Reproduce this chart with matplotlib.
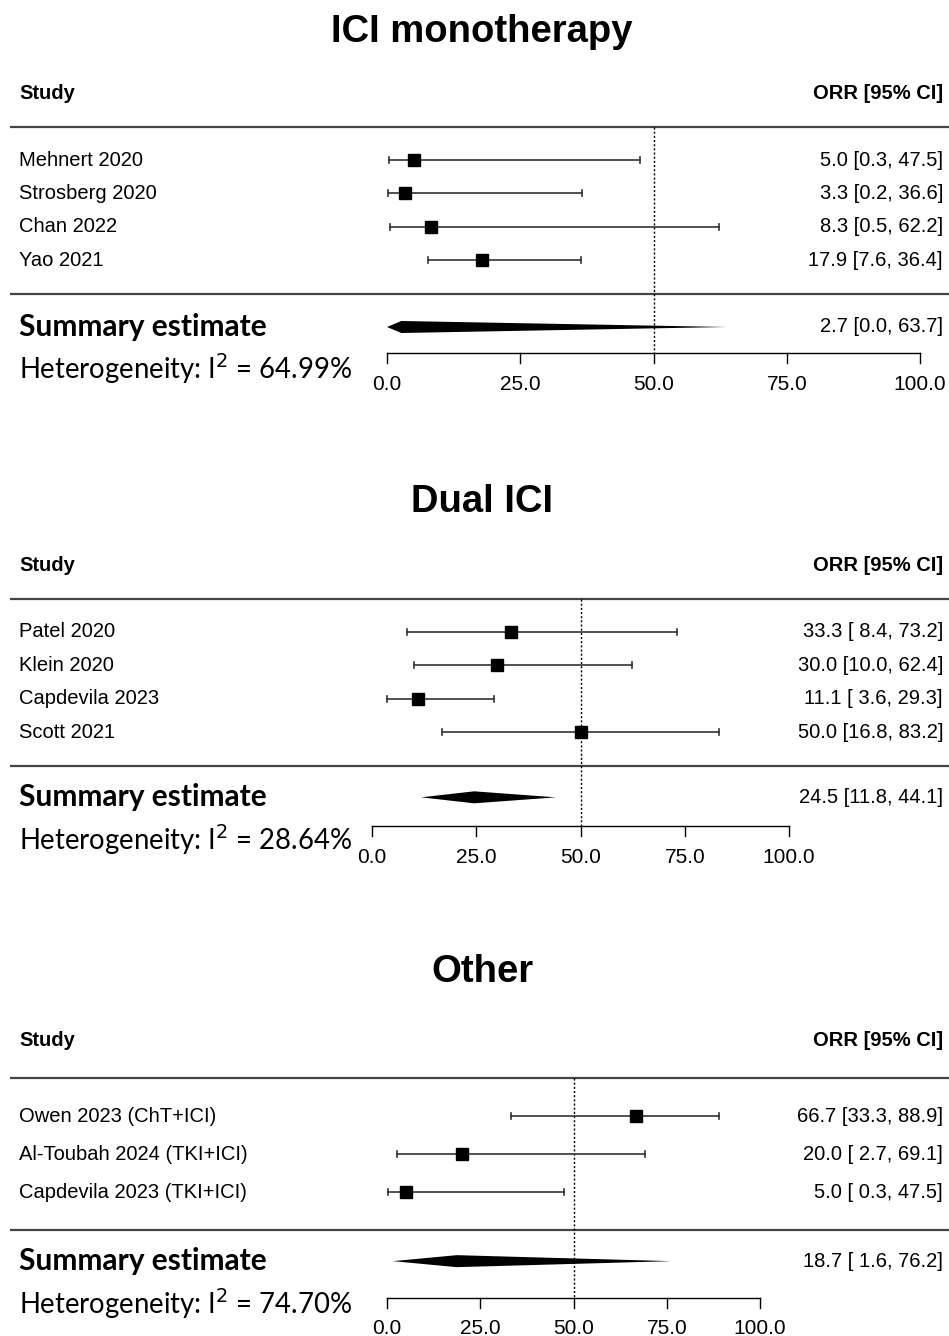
import numpy as np
import matplotlib
matplotlib.use("Agg")
import matplotlib.pyplot as plt
from matplotlib import font_manager
from matplotlib.transforms import blended_transform_factory

W, H = 949, 1336

# ------- data -------
mono_studies = ["Mehnert 2020", "Strosberg 2020", "Chan 2022", "Yao 2021"]
mono_est = [5.0, 3.3, 8.3, 17.9]
mono_lo = [0.3, 0.2, 0.5, 7.6]
mono_hi = [47.5, 36.6, 62.2, 36.4]
mono_sum = (2.7, 0.0, 63.7)
mono_i2 = "64.99%"

dual_studies = ["Patel 2020", "Klein 2020", "Capdevila 2023", "Scott 2021"]
dual_est = [33.3, 30.0, 11.1, 50.0]
dual_lo = [8.4, 10.0, 3.6, 16.8]
dual_hi = [73.2, 62.4, 29.3, 83.2]
dual_sum = (24.5, 11.8, 44.1)
dual_i2 = "28.64%"

other_studies = ["Owen 2023 (ChT+ICI)", "Al-Toubah 2024 (TKI+ICI)", "Capdevila 2023 (TKI+ICI)"]
other_est = [66.7, 20.0, 5.0]
other_lo = [33.3, 2.7, 0.3]
other_hi = [88.9, 69.1, 47.5]
other_sum = (18.7, 1.6, 76.2)
other_i2 = "74.70%"

ticks = [0, 25, 50, 75, 100]

avail = {f.name for f in font_manager.fontManager.ttflist}
ARIAL = "Liberation Sans"
NARROW = "Liberation Sans Narrow" if "Liberation Sans Narrow" in avail else ARIAL
CALIBRI = "Lato"


def fmt(v, pad):
    return f"{v:.1f}".rjust(pad)


def ci_text(e, l, h, pad):
    return f"{e:.1f} [{fmt(l, pad)}, {h:.1f}]"


# layout per panel: title y, first row y, row spacing, x px of 0 and 100
panels = [
    dict(title="ICI monotherapy", studies=mono_studies, est=mono_est, lo=mono_lo, hi=mono_hi,
         summ=mono_sum, i2=mono_i2, pad=3, ty=32, y0=160, sp=33.4, x0=387, x1=920,
         sum_off=1.0, ax_off=1.78, lab_off=2.72),
    dict(title="Dual ICI", studies=dual_studies, est=dual_est, lo=dual_lo, hi=dual_hi,
         summ=dual_sum, i2=dual_i2, pad=4, ty=502, y0=632, sp=33.4, x0=372, x1=789,
         sum_off=0.95, ax_off=1.82, lab_off=2.74),
    dict(title="Other", studies=other_studies, est=other_est, lo=other_lo, hi=other_hi,
         summ=other_sum, i2=other_i2, pad=4, ty=972, y0=1116, sp=38.0, x0=387, x1=760,
         sum_off=0.82, ax_off=1.78, lab_off=2.6),
]

fig = plt.figure(figsize=(W / 100, H / 100), dpi=100)

for p in panels:
    n = len(p["studies"])
    sp, y0 = p["sp"], p["y0"]
    top_u, bot_u = -3.0, n + 3.2
    top_px = y0 + top_u * sp
    bot_px = y0 + bot_u * sp
    ax = fig.add_axes([0, 1 - bot_px / H, 1, (bot_px - top_px) / H])
    scale = (p["x1"] - p["x0"]) / 100.0
    ax.set_xlim(-p["x0"] / scale, (W - p["x0"]) / scale)
    ax.set_ylim(bot_u, top_u)
    ax.axis("off")
    tl = blended_transform_factory(ax.transAxes, ax.transData)

    fig.text(0.508, 1 - p["ty"] / H, p["title"], ha="center", va="center",
             fontsize=27.5, fontweight="bold", family=NARROW)

    # headers
    ax.text(19 / W, -2, "Study", transform=tl, ha="left", va="center",
            fontsize=14.5, fontweight="bold", family=ARIAL)
    ax.text(943 / W, -2, "ORR [95% CI]", transform=tl, ha="right", va="center",
            fontsize=14.5, fontweight="bold", family=ARIAL)
    for yy in (-1, n):
        ax.plot([10 / W, 1], [yy, yy], transform=tl, color="#444444", lw=1.6,
                solid_capstyle="butt")

    ax_y = n + p["ax_off"]
    # reference line at 50
    ax.plot([50, 50], [-1, ax_y], color="black", lw=1.0, ls=(0, (1.5, 1.5)))

    rows = np.arange(n)
    cap = 3.0 / sp
    for i in rows:
        ax.plot([p["lo"][i], p["hi"][i]], [i, i], color="#333333", lw=1.2)
        ax.plot([p["lo"][i]] * 2, [i - cap, i + cap], color="#333333", lw=1.2)
        ax.plot([p["hi"][i]] * 2, [i - cap, i + cap], color="#333333", lw=1.2)
        ax.text(19 / W, i, p["studies"][i], transform=tl, ha="left", va="center",
                fontsize=14.5, family=ARIAL)
        ax.text(943 / W, i, ci_text(p["est"][i], p["lo"][i], p["hi"][i], p["pad"]),
                transform=tl, ha="right", va="center", fontsize=14.5, family=ARIAL)
    ax.plot(p["est"], rows, ls="none", marker="s", ms=8, color="black")

    # summary diamond
    se, sl, sh = p["summ"]
    ys = n + p["sum_off"]
    hd = 6.0 / sp
    ax.fill([sl, se, sh, se], [ys, ys - hd, ys, ys + hd], color="black", lw=0)
    ax.text(19 / W, ys, "Summary estimate", transform=tl, ha="left", va="center",
            fontsize=21.5, fontweight="bold", family=CALIBRI)
    ax.text(943 / W, ys, ci_text(se, sl, sh, p["pad"]), transform=tl, ha="right",
            va="center", fontsize=14.5, family=ARIAL)
    ax.text(19 / W, ys + 42.0 / sp, "Heterogeneity: I$^2$ = " + p["i2"], transform=tl,
            ha="left", va="center", fontsize=19.8, family=CALIBRI)

    # x axis
    tk = 10.0 / sp
    ax.plot([ticks[0], ticks[-1]], [ax_y, ax_y], color="black", lw=1.0)
    for t in ticks:
        ax.plot([t, t], [ax_y, ax_y + tk], color="black", lw=1.0)
        ax.text(t, n + p["lab_off"], f"{t:.1f}", ha="center", va="center",
                fontsize=15, family=ARIAL)

fig.savefig("out.png", dpi=100)
